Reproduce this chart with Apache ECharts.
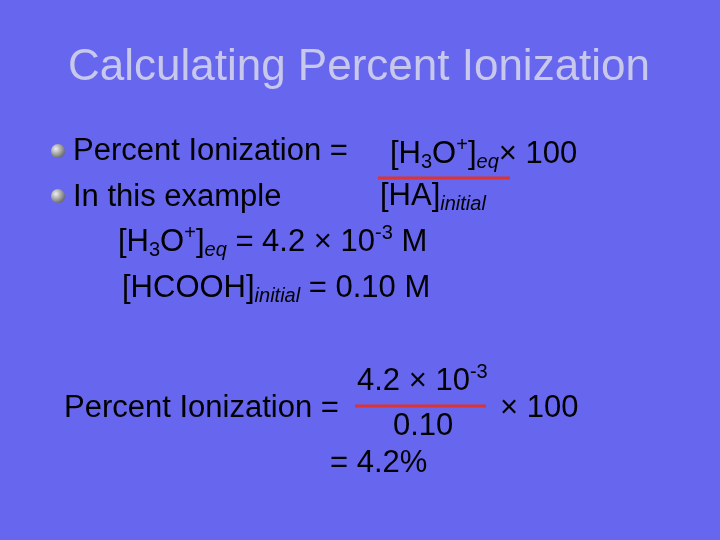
<!DOCTYPE html><html><head><meta charset="utf-8">
<script src="https://cdn.jsdelivr.net/npm/echarts@6/dist/echarts.min.js"></script>
<style>html,body{margin:0;padding:0;background:#6666ee}#c{width:720px;height:540px}</style></head><body><div id="c"></div>
<script>
const titleText = ["Calculating Percent Ionization"];
const concH3O = ["4.2", "10", "-3"];
const concHA = ["0.10"];
const result = ["4.2%"];
const F = "Liberation Sans, Arial, sans-serif";
const S=31, s=20;
const ctx = document.createElement('canvas').getContext('2d');
function fontOf(size,it){return (it?'italic ':'')+size+'px '+F;}
function w(str,size,it){ctx.font=fontOf(size,it);return ctx.measureText(str).width;}
// run: sequence of [text, kind] kind: 'n' normal, 'b' subscript, 'p' superscript, 'i' italic subscript
function run(x, y, parts){
  const out=[];
  parts.forEach(([str,k])=>{
    const size = k==='n'?S:s, it = k==='i';
    const dy = k==='n'?0:(k==='p'?-9:8);
    out.push({type:'text',x:x,y:y+dy,style:{text:str,font:fontOf(size,it),fill:'#000',verticalAlign:'middle',align:'left'}});
    x += w(str,size,it);
  });
  return out;
}
function line(x1,x2,y){return {type:'line',shape:{x1:x1,y1:y,x2:x2,y2:y},style:{stroke:'#dd3333',lineWidth:3}};}
function bullet(x,y){return {type:'circle',shape:{cx:x,cy:y,r:7},style:{fill:{type:'radial',x:0.35,y:0.35,r:0.8,colorStops:[{offset:0,color:'#eeeeee'},{offset:1,color:'#555555'}]}}};}
const els = [
  {type:'text', x:359, y:68, style:{text:titleText[0], font:'44px '+F, fill:'#c8c8ec', align:'center', verticalAlign:'middle'}},
  bullet(58,151), bullet(58,196),
  ...run(73,151,[['Percent Ionization =','n']]),
  ...run(390,154,[['[H','n'],['3','b'],['O','n'],['+','p'],[']','n'],['eq','i'],['× 100','n']]),
  line(378,510,178),
  ...run(73,197,[['In this example','n']]),
  ...run(380,196,[['[HA]','n'],['initial','i']]),
  ...run(118,242,[['[H','n'],['3','b'],['O','n'],['+','p'],[']','n'],['eq','i'],[' = '+concH3O[0]+' × '+concH3O[1],'n'],[concH3O[2],'p'],[' M','n']]),
  ...run(122,288,[['[HCOOH]','n'],['initial','i'],[' = 0.10 M','n']]),
  ...run(357,381,[[concH3O[0]+' × '+concH3O[1],'n'],[concH3O[2],'p']]),
  ...run(64,408,[['Percent Ionization =','n']]),
  line(355,486,406),
  ...run(393,426,[[concHA[0],'n']]),
  ...run(500,408,[['× 100','n']]),
  ...run(330,463,[['= '+result[0],'n']])
];
const chart = echarts.init(document.getElementById('c'));
chart.setOption({backgroundColor:'#6666ee', graphic:{elements:els}});
</script></body></html>
